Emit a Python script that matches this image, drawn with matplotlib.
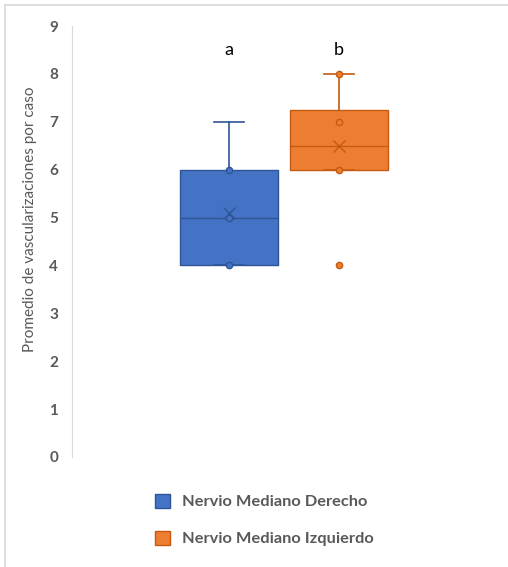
import matplotlib
matplotlib.use("Agg")
import matplotlib.pyplot as plt
from matplotlib.patches import Patch
from matplotlib.lines import Line2D

plt.rcParams["font.family"] = ["Lato", "DejaVu Sans"]

# datos
series = ["Nervio Mediano Derecho", "Nervio Mediano Izquierdo"]
letras = ["a", "b"]
minimos = [4, 6]
q1 = [4, 6]
medianas = [5, 6.5]
q3 = [6, 7.25]
maximos = [7, 8]
medias = [5.1, 6.5]
puntos_internos = [[4, 5, 6], [6, 7, 8]]
atipicos = [[], [4]]

colores = ["#4472C4", "#ED7D31"]
bordes = ["#2F5597", "#C55A11"]
gris = "#595959"

W, H = 508, 567
fig = plt.figure(figsize=(W / 100, H / 100), dpi=100)
ax = fig.add_axes([72 / W, 110 / H, 424 / W, 431 / H])

posiciones = [0.37, 0.63]
ancho = 0.231

for i in range(len(series)):
    stats = [dict(whislo=minimos[i], q1=q1[i], med=medianas[i], q3=q3[i],
                  whishi=maximos[i], mean=medias[i], fliers=[])]
    ax.bxp(stats, positions=[posiciones[i]], widths=ancho, capwidths=0.07,
           patch_artist=True, showmeans=True, showfliers=False,
           boxprops=dict(facecolor=colores[i], edgecolor=bordes[i], linewidth=1.0),
           medianprops=dict(color=bordes[i], linewidth=1.0),
           whiskerprops=dict(color=bordes[i], linewidth=1.2),
           capprops=dict(color=bordes[i], linewidth=1.2),
           meanprops=dict(marker="x", markeredgecolor=bordes[i], markersize=9,
                          markeredgewidth=1.0))
    pts = puntos_internos[i] + atipicos[i]
    ax.plot([posiciones[i]] * len(pts), pts, "o", markersize=4.5,
            markerfacecolor=colores[i], markeredgecolor=bordes[i],
            markeredgewidth=1.0, zorder=5)
    ax.text(posiciones[i], 8.5, letras[i], ha="center", va="center",
            fontsize=13, color="black")

ax.set_xlim(0, 1)
ax.set_ylim(0, 9)
ax.set_xticks([])
ax.set_yticks(range(10))
ax.tick_params(axis="y", length=0, pad=10, labelsize=11, labelcolor=gris)
for t in ax.get_yticklabels():
    t.set_fontweight("bold")
for s in ["top", "right", "bottom"]:
    ax.spines[s].set_visible(False)
ax.spines["left"].set_color("#d9d9d9")
ax.spines["left"].set_linewidth(0.8)

fig.text(30 / W, 1 - 219 / H, "Promedio de vascularizaciones por caso",
         rotation=90, ha="center", va="center", fontsize=11, color=gris)

handles = [Patch(facecolor=colores[i], edgecolor=bordes[i]) for i in range(len(series))]
fig.legend(handles, series, loc="upper left", bbox_to_anchor=(140 / W, 1 - 479 / H),
           frameon=False, handlelength=0.95, handleheight=0.95, labelspacing=1.3,
           handletextpad=0.7, prop=dict(size=11.8, weight="bold"), labelcolor=gris)

# marco de la captura
fig.add_artist(Line2D([5 / W, 1], [1 - 5 / H, 1 - 5 / H], color="#d9d9d9", linewidth=1.2))
fig.add_artist(Line2D([5 / W, 5 / W], [0, 1 - 5 / H], color="#d9d9d9", linewidth=1.2))

fig.savefig("out.png", dpi=100, facecolor="white")
